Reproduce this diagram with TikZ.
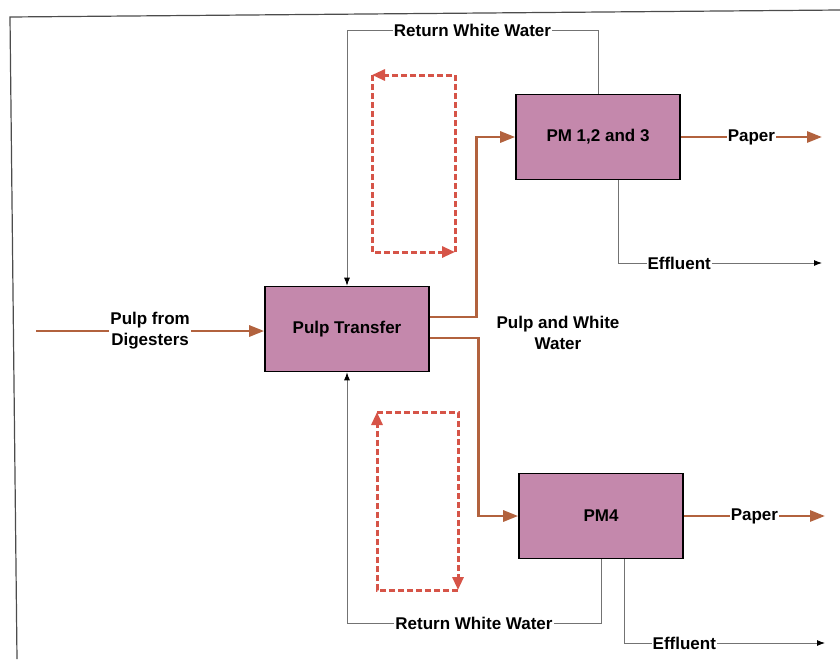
\documentclass[tikz,border=0pt]{standalone}
\usepackage{fontspec}
\setmainfont{Liberation Sans}
\usetikzlibrary{arrows.meta}
\definecolor{pulpbrown}{RGB}{178,98,62}
\definecolor{loopred}{RGB}{214,84,72}
\definecolor{unitpink}{RGB}{196,136,172}

\begin{document}
\begin{tikzpicture}[x=1pt, y=-1pt,
  unit/.style={draw=black, line width=1.6pt, fill=unitpink, minimum width=164pt, minimum height=85pt, font=\bfseries\fontsize{17}{20}\selectfont},
  pulp/.style={pulpbrown, line width=2.8pt, -{Triangle[length=15pt, width=11pt]}},
  water/.style={black!55, line width=0.9pt, -{Latex[black, length=8pt, width=6pt]}},
  tag/.style={fill=white, inner sep=1pt, text=black, align=center, font=\bfseries\fontsize{17}{21}\selectfont},
  loop/.style={loopred, line width=3pt, dash pattern=on 6pt off 3pt, -{Triangle[length=13pt, width=11pt]}}]
\useasboundingbox (0,0) rectangle (840,659);
% frame
\draw[black!70, line width=1.2pt] (840,10) -- (10,17) -- (17,659);
% units
\node[unit] (transfer) at (347,329) {Pulp Transfer};
\node[unit] (pm123) at (598,137) {PM 1,2 and 3};
\node[unit] (pm4) at (601,516) {PM4};
\coordinate (digest) at (36,331);
\coordinate (paper1) at (822,137);
\coordinate (paper2) at (825,516);
\coordinate (eff1) at (822,263);
\coordinate (eff2) at (825,643);
% pulp lines
\draw[pulp] (digest) -- node[tag, pos=0.5] {Pulp from\\Digesters} (transfer.west |- digest);
\draw[pulp] ([yshift=12pt]transfer.east) -- ++(47,0) |- (pm123.west);
\draw[pulp] ([yshift=-9pt]transfer.east) -- ++(49,0) |- (pm4.west);
\node[tag, fill=none] (mixlabel) at (558,333) {Pulp and White\\Water};
\draw[pulp] (pm123.east) -- node[tag, pos=0.5] {Paper} (paper1);
\draw[pulp] (pm4.east) -- node[tag, pos=0.5] {Paper} (paper2);
% white water and effluent
\draw[water] (pm123.north) |- node[tag, pos=0.75] {Return White Water} (transfer.north |- 0,30) -- (transfer.north);
\draw[water] (pm4.south) |- node[tag, pos=0.75] {Return White Water} (transfer.south |- 0,623) -- (transfer.south);
\draw[water] ([xshift=20pt]pm123.south) |- node[tag, pos=0.65] {Effluent} (eff1);
\draw[water] ([xshift=23pt]pm4.south) |- node[tag, pos=0.65] {Effluent} (eff2);
% circulation loops
\draw[loop] (455,252) -- (455,75) -- (372,75);
\draw[loop] (372,75) -- (372,252) -- (455,252);
\draw[loop] (458,590) -- (377,590) -- (377,412);
\draw[loop] (377,412) -- (458,412) -- (458,590);
\end{tikzpicture}
\end{document}
